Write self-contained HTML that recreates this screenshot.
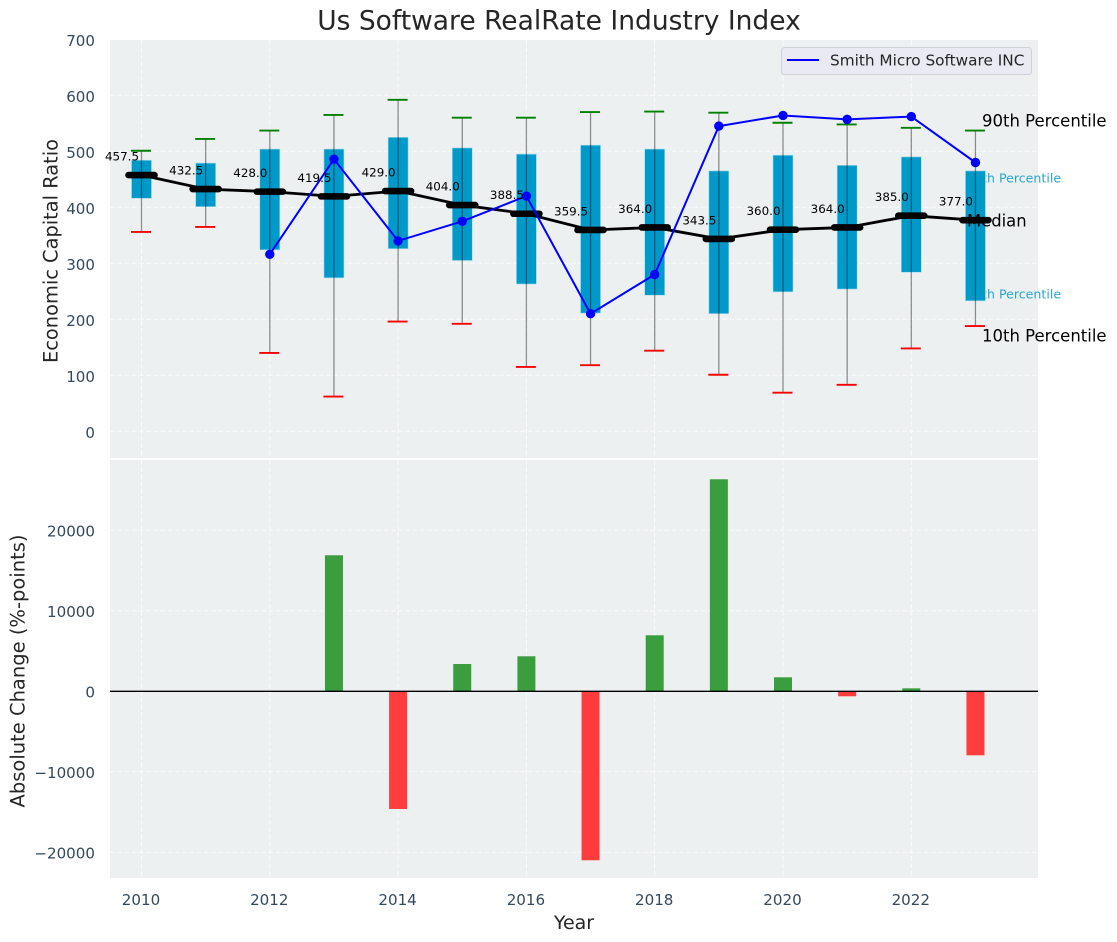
<!DOCTYPE html>
<html lang="en">
<head>
<meta charset="utf-8">
<title>Us Software RealRate Industry Index</title>
<style>
html,body{margin:0;padding:0;background:#fff;}
svg{display:block;font-family:"DejaVu Sans","Liberation Sans",sans-serif;}
</style>
</head>
<body>
<svg id="chart" xmlns="http://www.w3.org/2000/svg" width="1117" height="942" viewBox="0 0 1117 942">
  <rect x="0" y="0" width="1117" height="942" fill="#ffffff"/>
  <rect x="110" y="40" width="928" height="418" fill="#ecf0f1"/>
  <rect x="110" y="460" width="928" height="418" fill="#ecf0f1"/>
  <g id="grid"></g>
  <text x="966" y="178" font-size="12.6" fill="#2ba5d0" dominant-baseline="central">75th Percentile</text>
  <text x="966" y="294" font-size="12.6" fill="#2ba5d0" dominant-baseline="central">25th Percentile</text>
  <g id="boxes"></g>
  <g id="whiskers"></g>
  <text x="982" y="121" font-size="16.5" fill="#000000" dominant-baseline="central">90th Percentile</text>
  <text x="982" y="336" font-size="16.5" fill="#000000" dominant-baseline="central">10th Percentile</text>
  <text x="967" y="221" font-size="16.4" fill="#000000" dominant-baseline="central">Median</text>
  <g id="medians"></g>
  <g id="company"></g>
  <g id="medianLabels"></g>
  <g id="bars"></g>
  <line x1="110" x2="1038" y1="691.3" y2="691.3" stroke="#000000" stroke-width="1.4"/>
  <g id="ticks"></g>
  <text x="559" y="21" font-size="26.5" fill="#262626" text-anchor="middle" dominant-baseline="central">Us Software RealRate Industry Index</text>
  <text transform="translate(51 251) rotate(-90)" font-size="19.4" fill="#262626" text-anchor="middle" dominant-baseline="central">Economic Capital Ratio</text>
  <text transform="translate(18 671) rotate(-90)" font-size="19.5" fill="#262626" text-anchor="middle" dominant-baseline="central">Absolute Change (%-points)</text>
  <text x="574" y="923" font-size="19" fill="#262626" text-anchor="middle" dominant-baseline="central">Year</text>
  <g>
    <rect x="781.5" y="47.5" width="250" height="27" rx="3" fill="#eaeaf2" stroke="#cfd2d6" stroke-width="1"/>
    <line x1="787" x2="819" y1="60" y2="60" stroke="#0000ff" stroke-width="2"/>
    <text x="830" y="60.5" font-size="15.3" fill="#262626" dominant-baseline="central">Smith Micro Software INC</text>
  </g>
</svg>
<script>
const years = [2010,2011,2012,2013,2014,2015,2016,2017,2018,2019,2020,2021,2022,2023];
const p90 = [501,522,537,565,592,560,560,570,571,569,551,548,542,537];
const p75 = [484,479,504,504,525,506,495,511,504,465,493,475,490,465];
const median = [457.5,432.5,428,419.5,429,404,388.5,359.5,364,343.5,360,364,385,377];
const p25 = [416,401,324,274,326,305,263,211,243,210,249,254,284,233];
const p10 = [356,365,140,62,196,192,115,118,144,101,69,83,148,188];
const company = [null,null,316,486,340,375,420,210,280,545,564,557,562,480];
const change = [0,0,0,16900,-14620,3390,4350,-20990,6960,26340,1740,-620,370,-7950];
const xTickLabels = [2010,2012,2014,2016,2018,2020,2022];
const topTickLabels = [0,100,200,300,400,500,600,700];
const bottomTickLabels = [-20000,-10000,0,10000,20000];

const NS = 'http://www.w3.org/2000/svg';
const xScale = function (v) { return 141.5 + 64.15 * (v - 2010); };
const yTop = function (v) { return 431.3 - 0.56 * v; };
const yBottom = function (v) { return 691.3 - 0.00805 * v; };

function make(parentId, tag, attrs, text) {
  const node = document.createElementNS(NS, tag);
  Object.keys(attrs).forEach(function (k) { node.setAttribute(k, attrs[k]); });
  if (text !== undefined) node.textContent = text;
  document.getElementById(parentId).appendChild(node);
  return node;
}

const gridStyle = { stroke: '#ffffff', 'stroke-width': 1, 'stroke-dasharray': '5 2.2', 'stroke-opacity': 0.75 };

xTickLabels.forEach(function (t) {
  [[40, 458], [460, 878]].forEach(function (range) {
    const el = make('grid', 'line', Object.assign({ x1: xScale(t), x2: xScale(t), y1: range[0], y2: range[1] }, gridStyle));
    
    
  });
  const label = make('ticks', 'text', { x: xScale(t) - 0.5, y: 900, 'font-size': 15.1, fill: '#34495e', 'text-anchor': 'middle', 'dominant-baseline': 'central' }, String(t));
  
  
});

topTickLabels.forEach(function (t) {
  if (t < 700) {
    const el = make('grid', 'line', Object.assign({ x1: 110, x2: 1038, y1: yTop(t), y2: yTop(t) }, gridStyle));
    
    
  }
  const label = make('ticks', 'text', { x: 95, y: yTop(t) + 1.6, 'font-size': 15.1, fill: '#34495e', 'text-anchor': 'end', 'dominant-baseline': 'central' }, String(t));
  
  
});

bottomTickLabels.forEach(function (t) {
  const el = make('grid', 'line', Object.assign({ x1: 110, x2: 1038, y1: yBottom(t), y2: yBottom(t) }, gridStyle));
  
  
  const text = t < 0 ? '\u2212' + Math.abs(t) : String(t);
  const label = make('ticks', 'text', { x: 95, y: yBottom(t) + 1, 'font-size': 15.1, fill: '#34495e', 'text-anchor': 'end', 'dominant-baseline': 'central' }, text);
  
  
});

years.forEach(function (year, i) {
  const cx = xScale(year);

  const box = make('boxes', 'rect', { x: cx - 10, y: yTop(p75[i]), width: 20, height: yTop(p25[i]) - yTop(p75[i]), fill: '#009aca', stroke: '#a8dcec', 'stroke-width': 0.6 });
  
  

  const whisker = make('whiskers', 'line', { x1: cx, x2: cx, y1: yTop(p10[i]), y2: yTop(p90[i]), stroke: '#000000', 'stroke-opacity': 0.42, 'stroke-width': 1.3 });
  
  

  const capHigh = make('whiskers', 'line', { x1: cx - 10.5, x2: cx + 9.5, y1: yTop(p90[i]), y2: yTop(p90[i]), stroke: '#008000', 'stroke-width': 1.9 });
  
  

  const capLow = make('whiskers', 'line', { x1: cx - 10.5, x2: cx + 9.5, y1: yTop(p10[i]), y2: yTop(p10[i]), stroke: '#ff0000', 'stroke-width': 1.9 });
  
  

  const label = make('medianLabels', 'text', { x: cx - 19.5, y: yTop(median[i]) - 18.5, 'font-size': 11.9, fill: '#000000', 'text-anchor': 'middle', 'dominant-baseline': 'central' }, median[i].toFixed(1));
  
  

  const value = change[i];
  if (value !== 0) {
    const top = yBottom(Math.max(value, 0));
    const bottom = yBottom(Math.min(value, 0));
    const bar = make('bars', 'rect', { x: cx - 9, y: top, width: 18, height: bottom - top, fill: value > 0 ? '#3b9e3e' : '#ff3d3d' });
    
    
  }
});

const medianLine = make('medians', 'polyline', {
  points: years.map(function (y, i) { return xScale(y) + ',' + yTop(median[i]); }).join(' '),
  fill: 'none', stroke: '#000000', 'stroke-width': 2.8
});



years.forEach(function (year, i) {
  const mark = make('medians', 'line', { x1: xScale(year) - 13, x2: xScale(year) + 13, y1: yTop(median[i]), y2: yTop(median[i]), stroke: '#000000', 'stroke-width': 6.6, 'stroke-linecap': 'round' });
  
  
});

const companyPoints = years.map(function (y, i) { return company[i] === null ? null : [xScale(y), yTop(company[i])]; }).filter(Boolean);
const companyLine = make('company', 'polyline', {
  points: companyPoints.map(function (p) { return p.join(','); }).join(' '),
  fill: 'none', stroke: '#0000ff', 'stroke-width': 2
});



companyPoints.forEach(function (p) {
  const dot = make('company', 'circle', { cx: p[0], cy: p[1], r: 4.7, fill: '#0000ff' });
  
  
});
</script>
</body>
</html>
